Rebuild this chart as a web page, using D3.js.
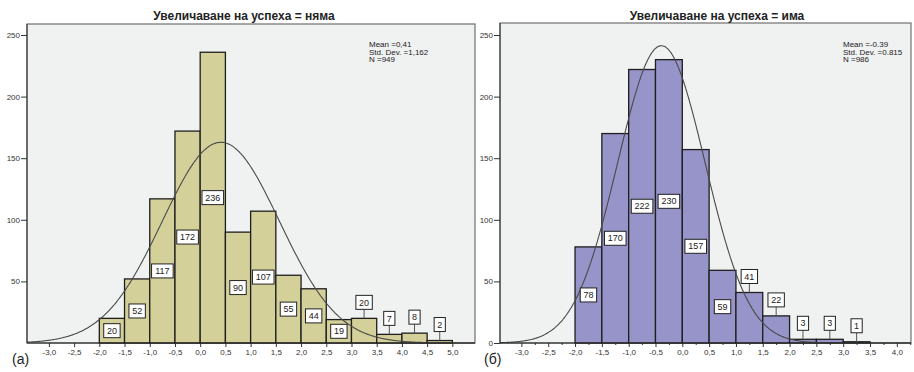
<!DOCTYPE html>
<html lang="bg">
<head>
<meta charset="utf-8">
<script src="https://d3js.org/d3.v7.min.js"></script>
<title>Увеличаване на успеха</title>
<style>
  body { margin: 0; background: #fff; }
  svg text { font-family: "Liberation Sans", Arial, sans-serif; }
</style>
</head>
<body>
<svg width="914" height="372"></svg>
<script>
// histogram bins are 0.5 wide, the first one starts at -2.0
var binStarts = [-2.0, -1.5, -1.0, -0.5, 0.0, 0.5, 1.0, 1.5, 2.0, 2.5, 3.0, 3.5, 4.0, 4.5];
var countsNyama = [20, 52, 117, 172, 236, 90, 107, 55, 44, 19, 20, 7, 8, 2];
var countsIma = [78, 170, 222, 230, 157, 59, 41, 22, 3, 3, 1];
// 1 = the count label sits above the bar, with a leader line
var labelAboveNyama = [0, 0, 0, 0, 0, 0, 0, 0, 0, 0, 1, 1, 1, 1];
var labelAboveIma = [0, 0, 0, 0, 0, 0, 1, 1, 1, 1, 1];
var yTicksNyama = [50, 100, 150, 200, 250];
var yTicksIma = [0, 50, 100, 150, 200, 250];
var xTicksNyama = [-3.0, -2.5, -2.0, -1.5, -1.0, -0.5, 0.0, 0.5, 1.0, 1.5, 2.0, 2.5, 3.0, 3.5, 4.0, 4.5, 5.0];
var xTicksIma = [-3.0, -2.5, -2.0, -1.5, -1.0, -0.5, 0.0, 0.5, 1.0, 1.5, 2.0, 2.5, 3.0, 3.5, 4.0];
var statsNyama = ["Mean =0,41", "Std. Dev. =1,162", "N =949"];
var statsIma = ["Mean =-0.39", "Std. Dev. =0.815", "N =986"];
var fitNyama = [0.41, 1.162, 949];   // mean, sd, n
var fitIma = [-0.39, 0.815, 986];
var binWidth = 0.5;

var svg = d3.select("svg");
var fmt = function(v) { return d3.format(".1f")(v).replace(".", ",").replace("\u2212", "-"); };

function panel(p) {
  var g = svg.append("g");
  var x = d3.scaleLinear().domain(p.xDomain).range([p.left, p.right]);
  var y = d3.scaleLinear().domain([0, 250]).range([343, 35]);

  g.append("rect")
      .attr("x", p.left).attr("y", p.top)
      .attr("width", p.right - p.left).attr("height", 343 - p.top)
      .attr("fill", "#f0f1f1")
      .attr("stroke", "#707070")
      .attr("stroke-width", 1.2);

  var bins = p.counts.map(function(c, i) { return {x0: binStarts[i], n: c, above: p.above[i]}; });

  g.selectAll(".bar")
    .data(bins)
    .enter().append("rect")
      .attr("class", "bar")
      .attr("x", function(d) { return x(d.x0); })
      .attr("y", function(d) { return y(d.n); })
      .attr("width", function(d) { return x(d.x0 + binWidth) - x(d.x0); })
      .attr("height", function(d) { return y(0) - y(d.n); })
      .attr("fill", p.fill)
      .attr("stroke", "#1e1e1e")
      .attr("stroke-width", 1.3);

  // fitted normal curve
  var mean = p.fit[0], sd = p.fit[1], n = p.fit[2];
  var xs = d3.range(p.xDomain[0], p.xDomain[1], 0.02);
  var line = d3.line()
      .x(function(v) { return x(v); })
      .y(function(v) {
        return y(n * binWidth / (sd * Math.sqrt(2 * Math.PI)) * Math.exp(-0.5 * Math.pow((v - mean) / sd, 2)));
      })
      .curve(d3.curveBasis);
  g.append("path")
      .datum(xs)
      .attr("d", line)
      .attr("fill", "none")
      .attr("stroke", "#4a4a4a")
      .attr("stroke-width", 1.1);

  // count labels
  var lab = g.selectAll(".lab")
    .data(bins)
    .enter().append("g")
      .attr("class", "lab")
      .attr("transform", function(d) {
        var cy = d.above ? y(d.n) - 16 : (y(d.n) + y(0)) / 2;
        return "translate(" + x(d.x0 + binWidth / 2) + "," + cy + ")";
      });
  lab.filter(function(d) { return d.above; }).append("line")
      .attr("y1", 6).attr("y2", 16)
      .attr("stroke", "#555");
  lab.append("rect")
      .attr("x", function(d) { return -(String(d.n).length * 2.6 + 3); })
      .attr("y", -7)
      .attr("width", function(d) { return String(d.n).length * 5.2 + 6; })
      .attr("height", 14)
      .attr("fill", "#fff")
      .attr("stroke", "#222")
      .attr("stroke-width", 1);
  lab.append("text")
      .attr("text-anchor", "middle")
      .attr("dy", "0.35em")
      .style("font-size", "9px")
      .attr("fill", "#222")
      .text(function(d) { return d.n; });

  // axes
  var yAxis = g.append("g")
      .attr("transform", "translate(" + p.left + ",0)")
      .call(d3.axisLeft(y).tickValues(p.yTicks).tickSize(6).tickPadding(1));
  yAxis.select(".domain").remove();

  var xAxis = g.append("g")
      .attr("transform", "translate(0,343)")
      .call(d3.axisBottom(x).tickValues(p.xTicks).tickSize(4).tickPadding(2).tickFormat(fmt));
  xAxis.select(".domain").remove();
  if (p.minor) {
    g.append("g")
        .attr("transform", "translate(0,343)")
        .call(d3.axisBottom(x).tickValues(p.xTicks.map(function(v) { return v + 0.25; })).tickSize(2).tickFormat(""))
      .select(".domain").remove();
  }
  g.selectAll(".tick text").style("font-size", "8px").attr("fill", "#333");
  g.selectAll(".tick line").attr("stroke", "#333");

  g.append("line")
      .attr("x1", p.left).attr("x2", p.right)
      .attr("y1", 343).attr("y2", 343)
      .attr("stroke", "#222");
  g.append("line")
      .attr("x1", p.left).attr("x2", p.left)
      .attr("y1", p.top).attr("y2", 343)
      .attr("stroke", "#333");

  svg.append("text")
      .attr("x", p.titleX).attr("y", 20)
      .attr("text-anchor", "middle")
      .style("font-size", "12px")
      .style("font-weight", "bold")
      .attr("fill", "#222")
      .text(p.title);

  svg.append("g").selectAll("text")
    .data(p.stats)
    .enter().append("text")
      .attr("x", p.statsX)
      .attr("y", function(d, i) { return 47 + i * 7.5; })
      .style("font-size", "8px")
      .attr("fill", "#222")
      .text(function(d) { return d; });

  svg.append("text")
      .attr("x", p.tagX).attr("y", 364)
      .style("font-size", "14px")
      .attr("fill", "#222")
      .text(p.tag);
}

panel({
  left: 27, right: 475, top: 24, xDomain: [-3.434, 5.449],
  counts: countsNyama, above: labelAboveNyama, fit: fitNyama,
  fill: "#d4d09a", yTicks: yTicksNyama, xTicks: xTicksNyama, minor: false,
  title: "Увеличаване на успеха = няма", titleX: 244,
  stats: statsNyama, statsX: 369, tag: "(a)", tagX: 12
});

panel({
  left: 500, right: 911, top: 23, xDomain: [-3.399, 4.264],
  counts: countsIma, above: labelAboveIma, fit: fitIma,
  fill: "#9694c8", yTicks: yTicksIma, xTicks: xTicksIma, minor: true,
  title: "Увеличаване на успеха = има", titleX: 717,
  stats: statsIma, statsX: 843, tag: "(б)", tagX: 484
});
</script>
</body>
</html>
